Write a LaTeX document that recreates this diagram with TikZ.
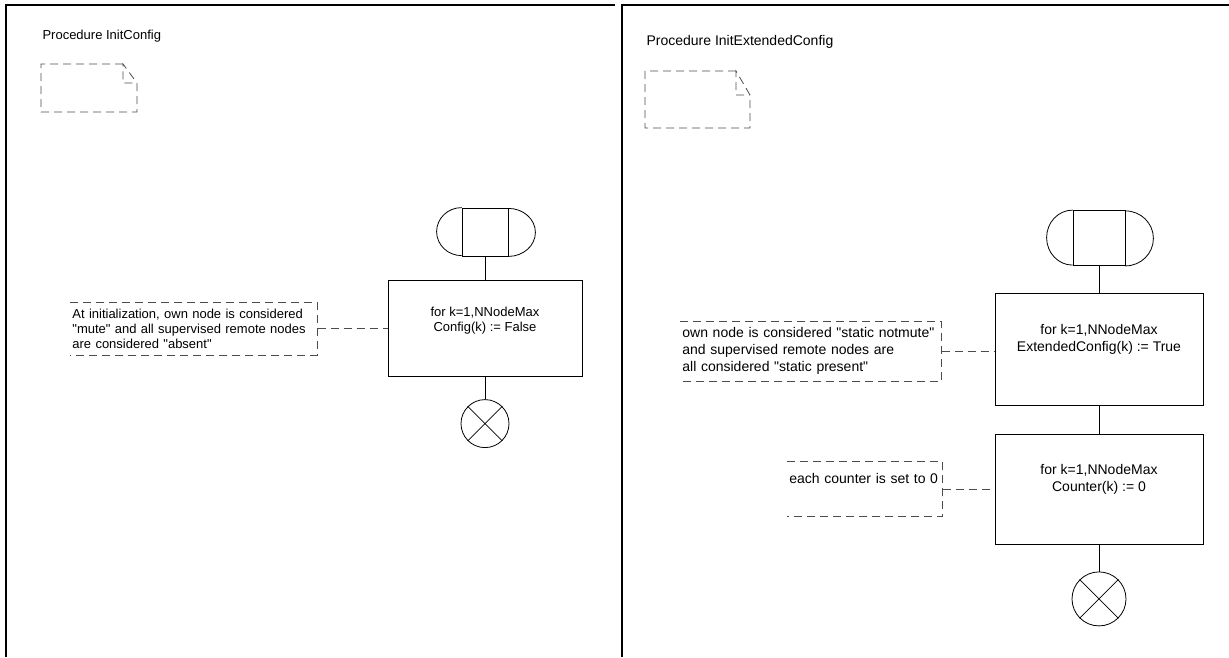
\documentclass[tikz,border=0pt]{standalone}
\usepackage{fontspec}
\setmainfont{Liberation Sans}[Ligatures=TeXOff]
\usetikzlibrary{positioning}

\begin{document}
\begin{tikzpicture}[x=1pt, y=-1pt,
  frame/.style={line width=2.5pt},
  sym/.style={draw, line width=0.8pt},
  dsh/.style={draw=black!70, line width=0.8pt, dash pattern=on 8pt off 5pt},
  task/.style={sym, rectangle, align=center, inner sep=0pt},
  startsym/.style={sym, rectangle, inner sep=0pt},
  stopsym/.style={sym, circle, inner sep=0pt},
  note/.style={align=left, inner xsep=2pt, inner ysep=0pt},
  lft/.style={font=\fontsize{13}{15}\selectfont},
  rgt/.style={font=\fontsize{14}{17}\selectfont}]
  \useasboundingbox (0,0) rectangle (1229,657);

  % frames
  \draw[frame] (615,5) -- (6,5) -- (6,657);
  \draw[frame] (1229,5) -- (622,5) -- (622,657);

  % procedure InitConfig
  \node[lft, anchor=west] (title1) at (39,36) {Procedure InitConfig};
  \draw[dsh] (123,64) -- (41,64) -- (41,112) -- (137,112) -- (137,83) -- (123,64) -- (123,83) -- (137,83);
  \node[startsym, minimum width=46pt, minimum height=48pt] (start1) at (485,232) {};
  \draw[sym] (start1.north west) arc[start angle=90, end angle=270, x radius=25pt, y radius=24pt];
  \draw[sym] (start1.south east) arc[start angle=-90, end angle=90, x radius=27pt, y radius=24pt];
  \node[task, lft, minimum width=194pt, minimum height=96pt, below=24pt of start1] (task1) {for k=1,NNodeMax\\Config(k) := False\\\strut};
  \node[stopsym, minimum size=48pt, below=22pt of task1] (stop1) {};
  \draw[sym] (stop1.north west) -- (stop1.south east) (stop1.north east) -- (stop1.south west);
  \node[note, lft, text width=243pt, minimum height=52pt, left=70pt of task1] (note1) {At initialization, own node is considered\\"mute" and all supervised remote nodes\\are considered "absent"};
  \draw[dsh] (note1.north west) -- (note1.north east) -- (note1.south east) -- (note1.south west);
  \draw[dsh] (note1.east) -- (task1.west);
  \draw[sym] (start1) -- (task1);
  \draw[sym] (task1) -- (stop1);

  % procedure InitExtendedConfig
  \node[rgt, anchor=west] (title2) at (643,42) {Procedure InitExtendedConfig};
  \draw[dsh] (736,71) -- (645,71) -- (645,128) -- (750,128) -- (750,95) -- (736,71) -- (736,95) -- (750,95);
  \node[startsym, minimum width=52pt, minimum height=55pt] (start2) at (1099,238) {};
  \draw[sym] (start2.north west) arc[start angle=90, end angle=270, x radius=26pt, y radius=27.5pt];
  \draw[sym] (start2.south east) arc[start angle=-90, end angle=90, x radius=28pt, y radius=27.5pt];
  \node[task, rgt, minimum width=208pt, minimum height=112pt, below=27pt of start2] (task2) {for k=1,NNodeMax\\ExtendedConfig(k) := True\\\strut};
  \node[task, rgt, minimum width=208pt, minimum height=110pt, below=28pt of task2] (task3) {for k=1,NNodeMax\\Counter(k) := 0\\\strut};
  \node[stopsym, minimum size=54pt, below=27pt of task3] (stop2) {};
  \draw[sym] (stop2.north west) -- (stop2.south east) (stop2.north east) -- (stop2.south west);
  \node[note, rgt, text width=257pt, minimum height=60pt, left=53pt of task2, yshift=-2pt] (note2) {own node is considered "static notmute"\\and supervised remote nodes are\\all considered "static present"};
  \node[note, rgt, text width=151pt, minimum height=55pt, left=52pt of task3] (note3) {each counter is set to 0\\\strut};
  \draw[dsh] (note2.north west) -- (note2.north east) -- (note2.south east) -- (note2.south west);
  \draw[dsh] (note3.north west) -- (note3.north east) -- (note3.south east) -- (note3.south west);
  \draw[dsh] (note2.east) -- (note2.east -| task2.west);
  \draw[dsh] (note3.east) -- (task3.west);
  \draw[sym] (start2) -- (task2);
  \draw[sym] (task2) -- (task3);
  \draw[sym] (task3) -- (stop2);
\end{tikzpicture}
\end{document}
